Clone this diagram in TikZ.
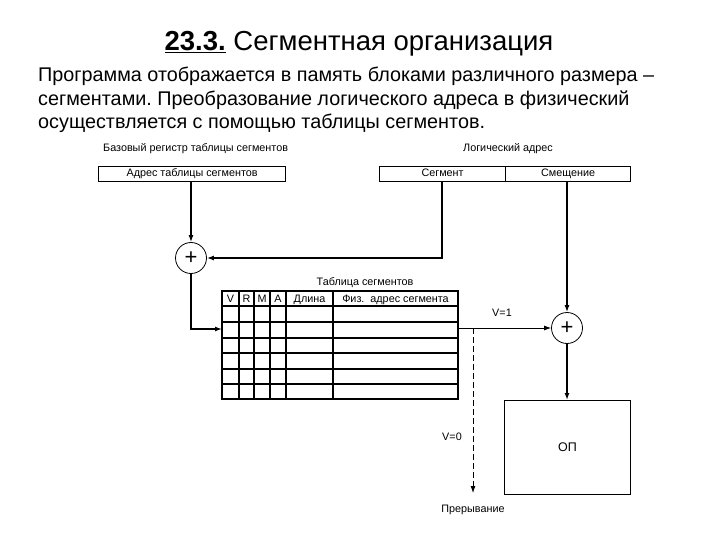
\documentclass[tikz,border=0pt]{standalone}
\usepackage{fontspec}
\setmainfont{Liberation Sans}
\usetikzlibrary{arrows.meta}
\frenchspacing
\begin{document}
\begin{tikzpicture}[x=1pt,y=-1pt,
  lbl/.style={font=\fontsize{10.8}{12}\selectfont, inner sep=0pt, text height=7.8pt, text depth=0pt},
  reg/.style={draw, line width=1.2pt, minimum height=15pt, inner sep=0pt, text height=7.8pt, text depth=2pt, font=\fontsize{10.8}{12}\selectfont},
  adder/.style={draw, circle, line width=0.8pt, minimum size=31pt, inner sep=0pt, font=\fontsize{22}{22}\selectfont},
  conn/.style={line width=1.3pt, -{Latex[length=7pt,width=5pt]}},
  tbl/.style={line width=1.3pt}]
\useasboundingbox (0,0) rectangle (720,540);
% title
\node[inner sep=0pt, font=\fontsize{27.5}{30}\selectfont] (title) at (359,44) {\underline{\textbf{23.3.}} Сегментная организация};
\node[inner sep=0pt, anchor=north west, align=left, font=\fontsize{19.8}{23.5}\selectfont] (para) at (38,67)
 {Программа отображается в память блоками различного размера –\\
  сегментами. Преобразование логического адреса в физический\\
  осуществляется с помощью таблицы сегментов.};
% registers
\node[lbl, anchor=west] (baselbl) at (103,148) {Базовый регистр таблицы сегментов};
\node[reg, minimum width=187pt, anchor=north west] (base) at (98,166) {Адрес таблицы сегментов};
\node[lbl] (loglbl) at (508,148) {Логический адрес};
\node[reg, minimum width=126pt, anchor=north west] (seg) at (379,166) {Сегмент};
\node[reg, minimum width=125pt, anchor=north west] (off) at (505,166) {Смещение};
% adders
\node[adder] (add1) at (191,258) {+};
\node[adder] (add2) at (567,328) {+};
% table
\node[lbl] (tbllbl) at (365,282) {Таблица сегментов};
\draw[tbl] (222,291) rectangle (458,399);
\foreach \yy in {306,322,338,353,369,384} \draw[tbl] (222,\yy) -- (458,\yy);
\foreach \xx in {239,254,270,286,333} \draw[tbl] (\xx,291) -- (\xx,399);
\node[lbl] (hV) at (230.5,298.5) {V};
\node[lbl] (hR) at (246.5,298.5) {R};
\node[lbl] (hM) at (262,298.5) {M};
\node[lbl] (hA) at (278,298.5) {A};
\node[lbl] (hL) at (309.5,298.5) {Длина};
\node[lbl] (hF) at (395.5,298.5) {Физ.~ адрес сегмента};
\coordinate (tin) at (222,329);
\coordinate (tout) at (458,328);
\coordinate (split) at (473,328);
% memory
\node[draw, line width=0.9pt, minimum width=126pt, minimum height=94pt, anchor=north west, inner sep=0pt, font=\fontsize{12.5}{13}\selectfont] (mem) at (504,400) {ОП};
% labels
\node[lbl] (v1) at (502,313) {V=1};
\node[lbl] (v0) at (452,437) {V=0};
\node[lbl] (intr) at (473,509) {Прерывание};
\coordinate (intend) at (473,493);
% connectors
\draw[conn] (base.south -| add1) -- (add1.north);
\draw[conn] (seg.south -| 442,0) |- (add1.east);
\draw[conn] (add1.south) |- (tin);
\draw[line width=0.8pt, -{Latex[length=7pt,width=5pt]}] (tout) -- (add2.west);
\draw[conn] (off.south -| add2) -- (add2.north);
\draw[conn] (add2.south) -- (mem.north -| add2);
\draw[line width=0.8pt, dashed, dash pattern=on 6pt off 3pt, -{Latex[length=7pt,width=5pt]}] (split) -- (intend);
\end{tikzpicture}
\end{document}
